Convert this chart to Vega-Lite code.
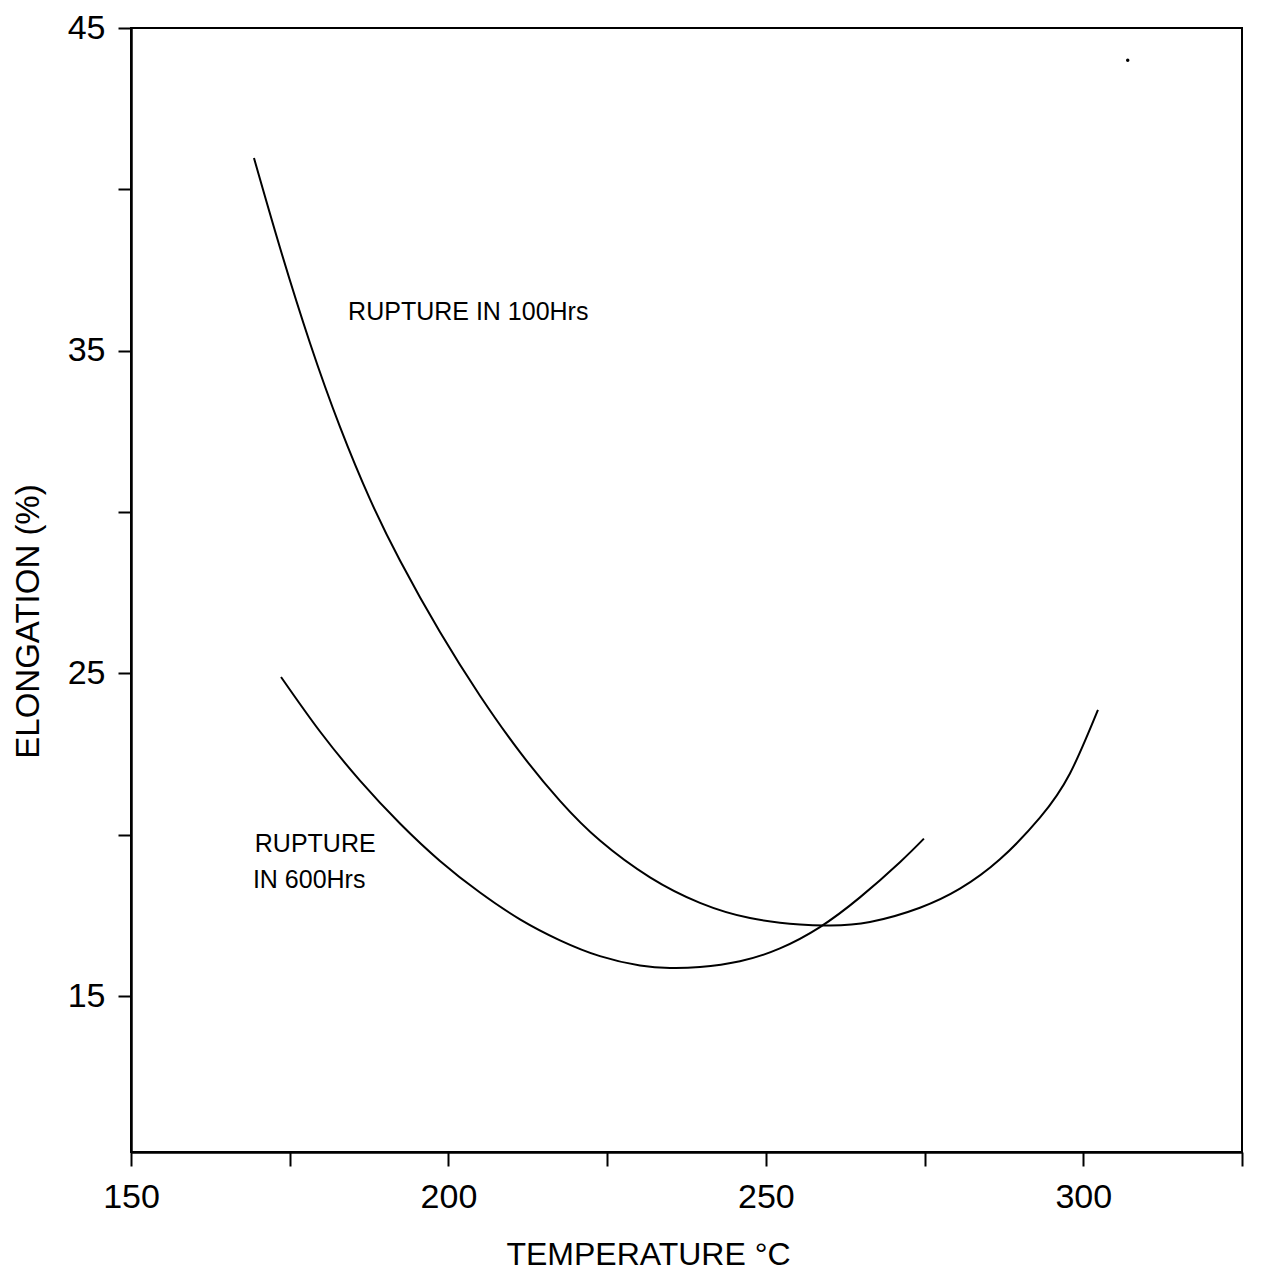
{
  "$schema": "https://vega.github.io/schema/vega-lite/v6.json",
  "autosize": "none",
  "padding": {"left": 131, "top": 28, "right": 21, "bottom": 125},
  "width": 1111,
  "height": 1124,
  "background": "white",
  "config": {
    "view": {"stroke": "black", "strokeWidth": 2},
    "font": "Liberation Sans",
    "axis": {
      "grid": false,
      "domainColor": "black",
      "domainWidth": 2.5,
      "tickColor": "black",
      "tickWidth": 2,
      "labelColor": "black",
      "titleColor": "black",
      "labelFont": "Liberation Sans",
      "titleFont": "Liberation Sans",
      "labelFontSize": 34,
      "titleFontWeight": "normal"
    }
  },
  "datasets": {
    "curves": [
      {"series": "100 Hrs", "temp": 169.37, "elong": 40.97},
      {"series": "100 Hrs", "temp": 173.47, "elong": 38.19},
      {"series": "100 Hrs", "temp": 178.19, "elong": 35.24},
      {"series": "100 Hrs", "temp": 182.92, "elong": 32.64},
      {"series": "100 Hrs", "temp": 187.64, "elong": 30.40},
      {"series": "100 Hrs", "temp": 192.37, "elong": 28.50},
      {"series": "100 Hrs", "temp": 198.67, "elong": 26.28},
      {"series": "100 Hrs", "temp": 204.97, "elong": 24.31},
      {"series": "100 Hrs", "temp": 211.27, "elong": 22.56},
      {"series": "100 Hrs", "temp": 217.57, "elong": 21.05},
      {"series": "100 Hrs", "temp": 223.87, "elong": 19.82},
      {"series": "100 Hrs", "temp": 231.75, "elong": 18.68},
      {"series": "100 Hrs", "temp": 239.62, "elong": 17.89},
      {"series": "100 Hrs", "temp": 247.50, "elong": 17.42},
      {"series": "100 Hrs", "temp": 255.37, "elong": 17.22},
      {"series": "100 Hrs", "temp": 260.10, "elong": 17.19},
      {"series": "100 Hrs", "temp": 266.40, "elong": 17.30},
      {"series": "100 Hrs", "temp": 274.27, "elong": 17.74},
      {"series": "100 Hrs", "temp": 280.57, "elong": 18.33},
      {"series": "100 Hrs", "temp": 286.87, "elong": 19.24},
      {"series": "100 Hrs", "temp": 293.17, "elong": 20.53},
      {"series": "100 Hrs", "temp": 297.90, "elong": 21.90},
      {"series": "100 Hrs", "temp": 302.31, "elong": 23.87},
      {"series": "600 Hrs", "temp": 173.63, "elong": 24.89},
      {"series": "600 Hrs", "temp": 179.77, "elong": 23.20},
      {"series": "600 Hrs", "temp": 186.07, "elong": 21.68},
      {"series": "600 Hrs", "temp": 192.37, "elong": 20.35},
      {"series": "600 Hrs", "temp": 198.67, "elong": 19.19},
      {"series": "600 Hrs", "temp": 204.97, "elong": 18.21},
      {"series": "600 Hrs", "temp": 211.27, "elong": 17.38},
      {"series": "600 Hrs", "temp": 217.57, "elong": 16.73},
      {"series": "600 Hrs", "temp": 223.87, "elong": 16.24},
      {"series": "600 Hrs", "temp": 230.17, "elong": 15.95},
      {"series": "600 Hrs", "temp": 234.90, "elong": 15.87},
      {"series": "600 Hrs", "temp": 239.62, "elong": 15.90},
      {"series": "600 Hrs", "temp": 245.92, "elong": 16.08},
      {"series": "600 Hrs", "temp": 252.22, "elong": 16.48},
      {"series": "600 Hrs", "temp": 258.52, "elong": 17.14},
      {"series": "600 Hrs", "temp": 264.82, "elong": 18.06},
      {"series": "600 Hrs", "temp": 271.12, "elong": 19.15},
      {"series": "600 Hrs", "temp": 274.90, "elong": 19.88}
    ],
    "labels": [
      {"text": "RUPTURE IN 100Hrs", "temp": 184.2, "elong": 35.95},
      {"text": "RUPTURE", "temp": 169.5, "elong": 19.47},
      {"text": "IN 600Hrs", "temp": 169.2, "elong": 18.35}
    ],
    "speck": [
      {"temp": 307.0, "elong": 44.0}
    ]
  },
  "encoding": {
    "x": {
      "field": "temp",
      "type": "quantitative",
      "scale": {"domain": [150, 325], "nice": false, "zero": false},
      "axis": {
        "title": "TEMPERATURE °C",
        "titleFontSize": 32,
        "titleX": 517,
        "titleY": 112,
        "titleAlign": "center",
        "titleBaseline": "alphabetic",
        "values": [150, 175, 200, 225, 250, 275, 300, 325],
        "labelExpr": "datum.value % 50 == 0 ? datum.label : ''",
        "tickSize": 14,
        "labelPadding": 14,
        "labelFlush": false
      }
    },
    "y": {
      "field": "elong",
      "type": "quantitative",
      "scale": {"domain": [10.17, 45], "nice": false, "zero": false},
      "axis": {
        "title": "ELONGATION (%)",
        "titleFontSize": 33,
        "titleX": -103,
        "titleY": 593,
        "titleAlign": "center",
        "titleBaseline": "middle",
        "values": [15, 20, 25, 30, 35, 40, 45],
        "labelExpr": "datum.value % 10 == 5 ? datum.label : ''",
        "tickSize": 13,
        "labelPadding": 13,
        "labelFlush": false
      }
    }
  },
  "layer": [
    {
      "data": {"name": "curves"},
      "mark": {"type": "line", "interpolate": "natural", "strokeWidth": 2, "color": "black"},
      "encoding": {"detail": {"field": "series", "type": "nominal"}}
    },
    {
      "data": {"name": "labels"},
      "mark": {"type": "text", "align": "left", "baseline": "alphabetic", "fontSize": 25, "font": "Liberation Sans", "color": "black", "letterSpacing": 1},
      "encoding": {"text": {"field": "text", "type": "nominal"}}
    },
    {
      "data": {"name": "speck"},
      "mark": {"type": "point", "filled": true, "size": 12, "color": "black", "opacity": 1}
    }
  ]
}
